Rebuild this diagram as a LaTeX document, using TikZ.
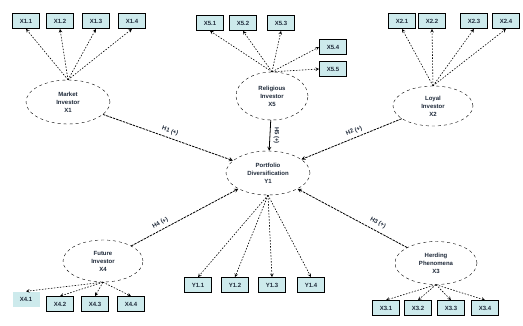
\documentclass[tikz,border=0pt]{standalone}
\usepackage{fontspec}
\setmainfont{Liberation Sans}
\usetikzlibrary{shapes.geometric}
\definecolor{boxcyan}{HTML}{CDEAEC}
\definecolor{inktext}{HTML}{1F2A3A}
\begin{document}
\begin{tikzpicture}[>=stealth,x=1pt,y=-1pt,
	font=\fontsize{6}{8}\selectfont\bfseries,text=inktext,
	lat/.style={ellipse,draw,dashed,fill=white,align=center,inner sep=0pt},
	ind/.style={fill=boxcyan,draw,line width=0.8pt,minimum width=27pt,minimum height=15pt,inner sep=1pt},
	load/.style={->,dash pattern=on 1.5pt off 1.5pt,semithick},
	hyp/.style={->,dash pattern=on 2.5pt off 1pt,thick}]
	\useasboundingbox (0,0) rectangle (523,325);
	% latent variables
	\node[lat,minimum width=84pt,minimum height=44pt] (x1) at (68,102) {Market\\Investor\\X1};
	\node[lat,minimum width=72pt,minimum height=48pt] (x5) at (272,96) {Religious\\Investor\\X5};
	\node[lat,minimum width=80pt,minimum height=40pt] (x2) at (433,106) {Loyal\\Investor\\X2};
	\node[lat,minimum width=84pt,minimum height=44pt] (y1) at (268,173) {Portfolio\\Diversification\\Y1};
	\node[lat,minimum width=80pt,minimum height=42pt] (x4) at (103,261) {Future\\Investor\\X4};
	\node[lat,minimum width=82pt,minimum height=43pt] (x3) at (436,263) {Herding\\Phenomena\\X3};
	% indicators
	\foreach \i/\x in {1/26,2/60,3/96,4/132}
		\node[ind] (x1\i) at (\x,21) {X1.\i};
	\foreach \i/\x in {1/210,2/243,3/281}
		\node[ind] (x5\i) at (\x,23) {X5.\i};
	\node[ind] (x54) at (333,47) {X5.4};
	\node[ind] (x55) at (333,69) {X5.5};
	\foreach \i/\x in {1/402,2/432,3/474,4/506}
		\node[ind] (x2\i) at (\x,21) {X2.\i};
	\node[fill=boxcyan,minimum width=27pt,minimum height=15pt,inner sep=1pt] (x41) at (26,299) {X4.1};
	\foreach \i/\x in {2/60,3/95,4/131}
		\node[ind] (x4\i) at (\x,304) {X4.\i};
	\foreach \i/\x in {1/198,2/235,3/272,4/311}
		\node[ind] (y1\i) at (\x,285) {Y1.\i};
	\foreach \i/\x in {1/386,2/418,3/451,4/485}
		\node[ind] (x3\i) at (\x,308) {X3.\i};
	% loadings
	\foreach \i in {1,...,4}
		\draw[load] (x1.north) -- (x1\i.south);
	\foreach \i in {1,...,3}
		\draw[load] (x5.north) -- (x5\i.south);
	\draw[load] (x5.north) -- (x54.west);
	\draw[load] (x5.north) -- (x55.west);
	\foreach \i in {1,...,4}
		\draw[load] (x2.north) -- (x2\i.south);
	\foreach \i in {1,...,4}
		\draw[load] (x4.south) -- (x4\i.north);
	\foreach \i in {1,...,4}
		\draw[load] (y1.south) -- (y1\i.north);
	\foreach \i in {1,...,4}
		\draw[load] (x3.south) -- (x3\i.north);
	% hypotheses
	\draw[hyp] (x1) -- node[sloped,above] {H1 (+)} (y1);
	\draw[hyp] (x2) -- node[sloped,above,pos=0.45] {H2 (+)} (y1);
	\draw[hyp] (x3) -- node[sloped,above=1.5pt,pos=0.3] {H3 (+)} (y1);
	\draw[hyp] (x4) -- node[sloped,above,pos=0.3] {H4 (+)} (y1);
	\draw[->,thick] (x5) -- node[right,rotate=-90,anchor=south] {H5 (+)} (y1);
\end{tikzpicture}
\end{document}
